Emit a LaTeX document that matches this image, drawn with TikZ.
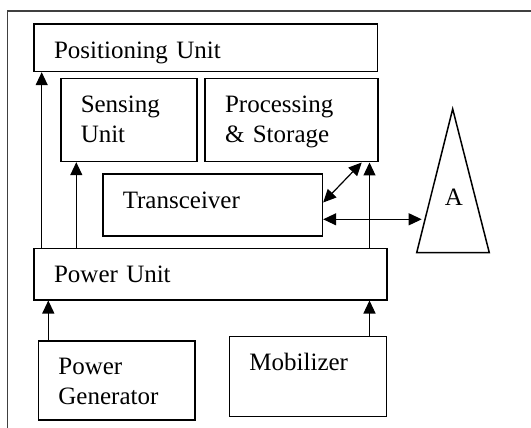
\documentclass[tikz,border=0pt]{standalone}
\usepackage{fontspec}
\setmainfont{Liberation Serif}
\usetikzlibrary{arrows.meta}
\tikzstyle{unit} = [rectangle, draw=black, line width=1.5pt, anchor=north west, inner xsep=20pt, inner ysep=0pt, text height=34pt, align=left, font=\fontsize{25}{30}\selectfont]
\tikzstyle{arrow} = [line width=1.2pt,-{Triangle[width=12pt,length=13pt]}]
\tikzstyle{link} = [line width=1.2pt,{Triangle[width=12pt,length=13pt]}-{Triangle[width=12pt,length=13pt]}]

\begin{document}
\begin{tikzpicture}[x=1pt, y=-1pt]
\useasboundingbox (0,0) rectangle (531,428);

% frame
\draw [line width=1.6pt, black!75] (7.3,428) -- (7.3,11) -- (531,11);

\node (pos) [unit, text width=303.4pt, text depth=13.4pt] at (33.3,23.3) {Positioning Unit};
\node (sense) [unit, text width=96pt, text depth=49pt] at (60,77.7) {Sensing\\Unit};
\node (proc) [unit, text width=133pt, text depth=49.3pt] at (204.3,77.7) {Processing\\\& Storage};
\node (trans) [unit, text width=179.7pt, text depth=27.7pt] at (102,173.3) {Transceiver};
\node (power) [unit, text width=312.7pt, text depth=17.3pt] at (33.3,247.7) {Power Unit};
\node (gen) [unit, text width=116.6pt, text depth=45.3pt] at (37.7,340) {Power\\Generator};
\node (mob) [unit, text width=117pt, text depth=46pt] at (228.7,335.7) {Mobilizer};

% antenna
\draw [line width=1.5pt] (452.7,109) -- (416.7,252.7) -- (489.3,252.7) -- cycle;
\node (ant) [font=\fontsize{25}{30}\selectfont] at (454,197.3) {A};
\coordinate (antin) at (421.7,219.3);

\draw [arrow] (41.7,0 |- power.north) -- (41.7,0 |- pos.south);
\draw [arrow] (76.3,0 |- power.north) -- (76.3,0 |- sense.south);
\draw [arrow] (369.5,0 |- power.north) -- (369.5,0 |- proc.south);
\draw [arrow] (48.3,0 |- gen.north) -- (48.3,0 |- power.south);
\draw [arrow] (369.5,0 |- mob.north) -- (369.5,0 |- power.south);

\draw [link] ([yshift=2.4pt]trans.east) -- (361.7,0 |- proc.south);
\draw [link] (trans.east |- antin) -- (antin);

\end{tikzpicture}
\end{document}
